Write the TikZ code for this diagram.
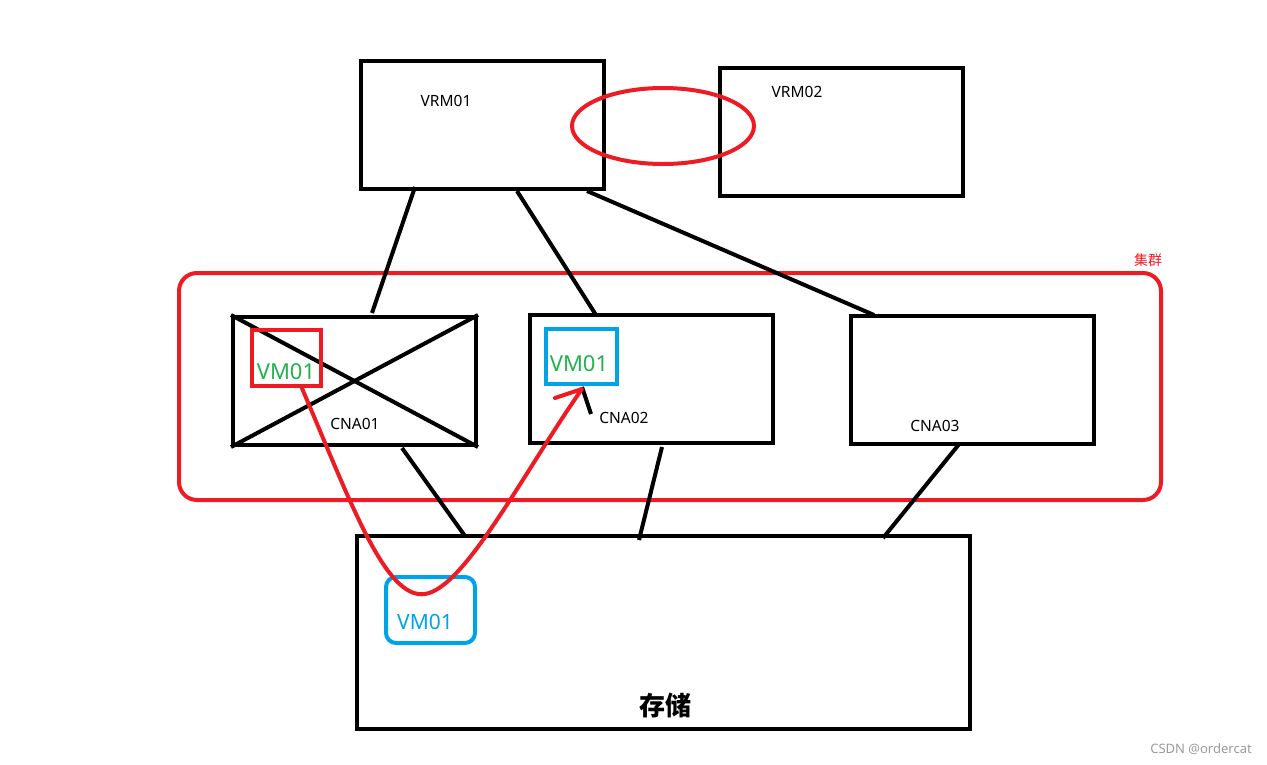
\documentclass[tikz,border=0pt]{standalone}
\usepackage{fontspec}
\usetikzlibrary{shapes.geometric}
\setmainfont{Noto Sans}
\newfontfamily\cjk{Noto Sans CJK SC}
\definecolor{pred}{RGB}{237,28,36}
\definecolor{pgreen}{RGB}{34,177,76}
\definecolor{pblue}{RGB}{0,162,232}
\begin{document}
\begin{tikzpicture}[x=1pt,y=-1pt,
  box/.style={draw=black,line width=4pt,minimum width=243pt,minimum height=128pt,inner sep=0pt},
  link/.style={draw=black,line width=4pt},
  lbl/.style={font=\fontsize{15.5}{17}\selectfont,inner sep=0pt},
  vmg/.style={font=\fontsize{22}{24}\selectfont,text=pgreen,inner sep=0pt}]
\useasboundingbox (0,0) rectangle (1267,764);
% VRM boxes
\node[box] (vrm1) at (482.5,125) {};
\node[box] (vrm2) at (841.5,132) {};
\node[lbl] (l1) at (446,101) {VRM01};
\node[lbl] (l2) at (797,92) {VRM02};
\node[draw=pred,line width=4pt,ellipse,minimum width=182pt,minimum height=76pt,inner sep=0pt] (ell) at (663,126) {};
% cluster
\node[draw=pred,line width=4pt,rounded corners=18pt,minimum width=982pt,minimum height=227pt,inner sep=0pt] (cl) at (670,386.5) {};
\node[font=\cjk\fontsize{14}{16}\selectfont,text=pred,inner sep=0pt] (cll) at (1148,260) {集群};
% CNA boxes
\node[box] (c1) at (354.5,381) {};
\node[box] (c2) at (651.5,379) {};
\node[box] (c3) at (972.5,380) {};
\draw[link] (c1.north west) -- (c1.south east);
\draw[link] (c1.south west) -- (c1.north east);
\node[lbl] (cl1) at (355,424) {CNA01};
\node[lbl] (cl2) at (624,418) {CNA02};
\node[lbl] (cl3) at (935,426) {CNA03};
% VM in CNA01
\node[draw=pred,line width=4pt,minimum width=69pt,minimum height=56pt,inner sep=0pt] (r1) at (286.5,358) {};
\node[vmg] (v1) at (286,372) {VM01};
% VM in CNA02
\node[draw=pblue,line width=4pt,minimum width=71pt,minimum height=55pt,inner sep=0pt] (b2) at (581.5,356.5) {};
\node[vmg] (v2) at (579,364) {VM01};
\coordinate (t2) at (591,414);
\draw[link] (582,387) -- (t2);
% storage
\node[draw=black,line width=4pt,minimum width=613pt,minimum height=193pt,inner sep=0pt] (st) at (663.5,632.5) {};
\node[font=\cjk\bfseries\fontsize{26}{28}\selectfont,inner sep=0pt] (stl) at (665,706) {存储};
\node[draw=pblue,line width=4pt,rounded corners=10pt,minimum width=89pt,minimum height=66pt,inner sep=0pt] (b3) at (430.5,610) {};
\node[font=\fontsize{21}{23}\selectfont,text=pblue,inner sep=0pt] (v3) at (425,622) {VM01};
% links
\draw[link] (415,187) -- (372,313);
\draw[link] (517,191) -- (596,315);
\draw[link] (587,191) -- (874,315);
\draw[link] (402,448) -- (465,536);
\draw[link] (662,447) -- (639,540);
\draw[link] (960,443) -- (883,538);
% migration curve
\draw[draw=pred,line width=4pt,line cap=round,line join=round]
  (301,386) .. controls (350,500) and (385,600) .. (425,594)
  .. controls (465,588) and (525,470) .. (582,389) -- (555,398);
% watermark
\node[font=\fontsize{13}{15}\selectfont,text=black!40,inner sep=0pt] (wm) at (1201,749) {CSDN @ordercat};
\end{tikzpicture}
\end{document}
